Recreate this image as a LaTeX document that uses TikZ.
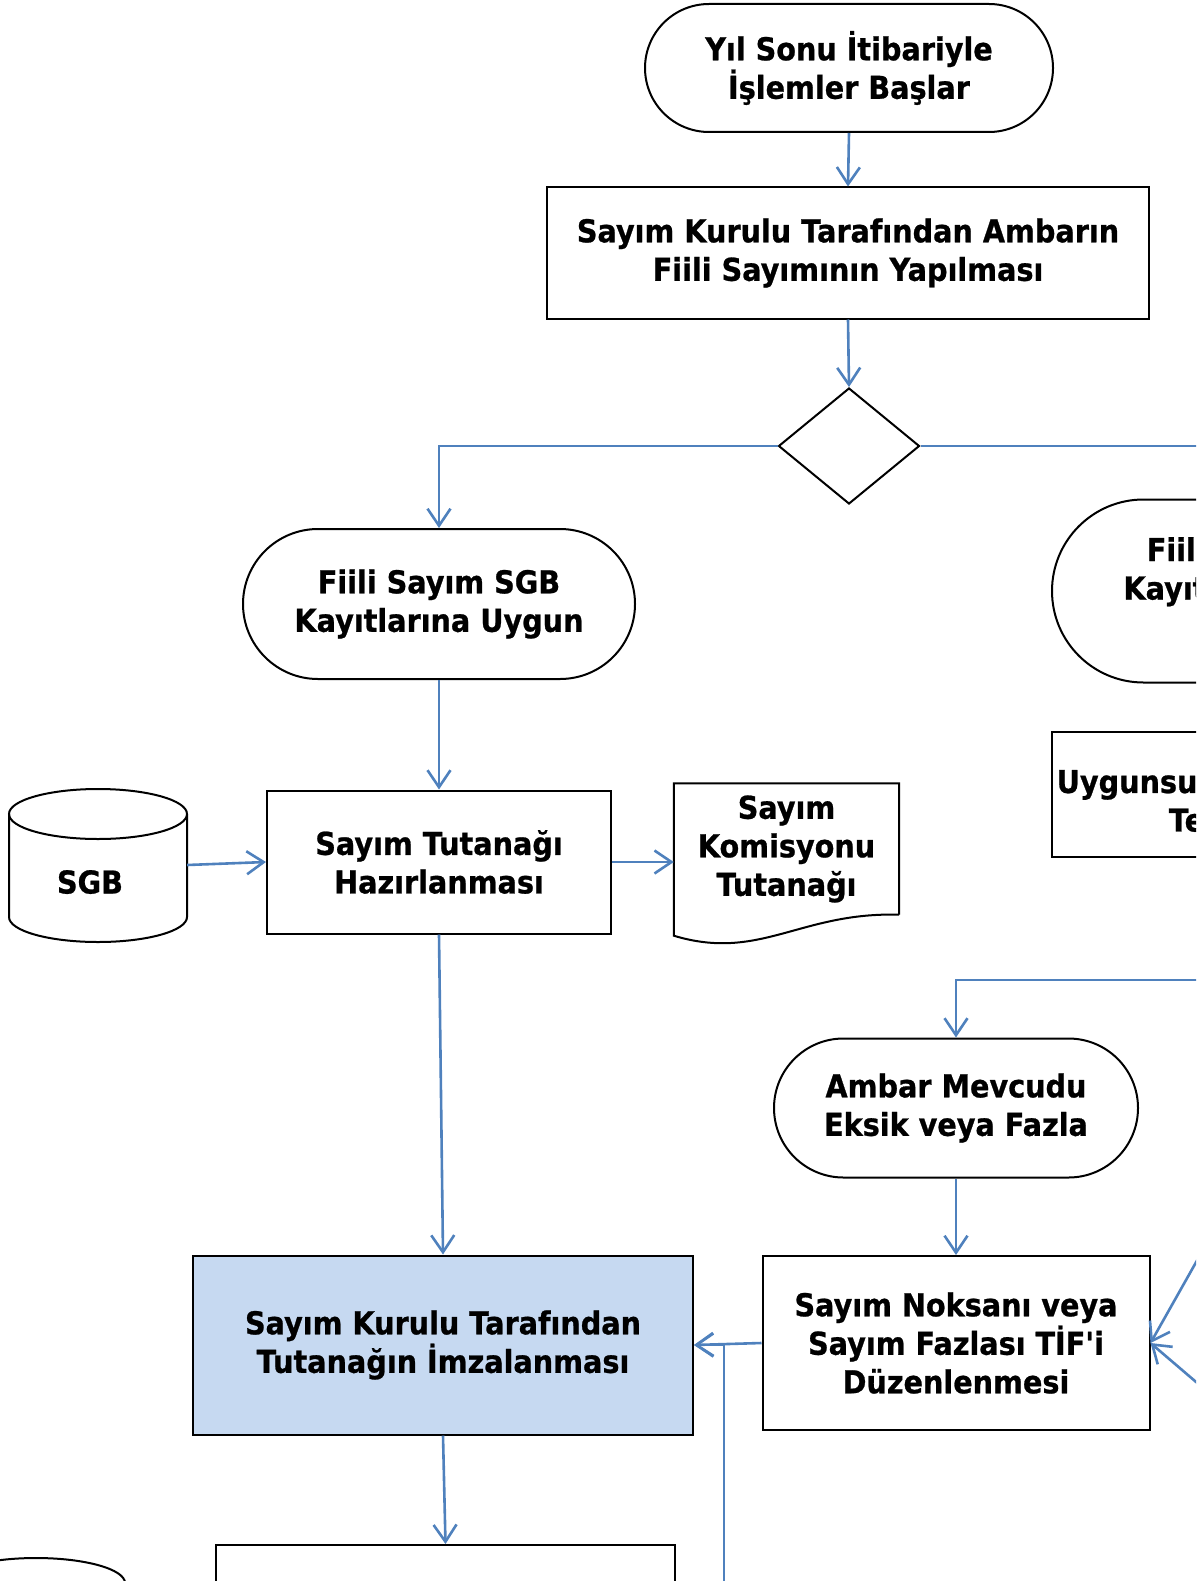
\documentclass[tikz,border=0pt]{standalone}
\usepackage{fontspec}
\newfontfamily\flowfont{DejaVu Sans}[FakeStretch=0.91,BoldFeatures={FakeBold=0.8}]
\usetikzlibrary{calc,arrows.meta,shapes.geometric,shapes.misc}
\definecolor{flowblue}{RGB}{79,129,189}
\definecolor{signfill}{RGB}{198,217,241}
\newcommand\flowtext{\flowfont\bfseries\fontsize{31.5}{38.5}\selectfont}

\begin{document}
\begin{tikzpicture}[x=1pt,y=-1pt,
  box/.style={draw,line width=2pt,rectangle,align=center,font=\flowtext,inner sep=0pt},
  term/.style={draw,line width=2pt,rounded rectangle,align=center,font=\flowtext,inner sep=0pt},
  flow/.style={draw=flowblue,line width=2.6pt,-{Straight Barb[length=17pt,width=23pt]}}]
  \useasboundingbox (0,0) rectangle (1196,1581);
  \clip (0,0) rectangle (1196,1581);

  % top of the chart
  \node[term,minimum width=408,minimum height=128] (start) at (849,68)
    {Yıl Sonu İtibariyle\\İşlemler Başlar};
  \node[box,minimum width=602,minimum height=131] (sayim) at (848,253)
    {Sayım Kurulu Tarafından Ambarın\\Fiili Sayımının Yapılması};
  \node[diamond,draw,line width=2pt,aspect=1.2,minimum width=141,minimum height=116,inner sep=0pt]
    (karar) at (849,446) {};

  % the two outcomes
  \node[term,minimum width=392,minimum height=150] (uygun) at (439,604)
    {Fiili Sayım SGB\\Kayıtlarına Uygun};
  \node[term,minimum width=432,minimum height=183] (uygunsuz) at (1268,591)
    {Fiili Sayım SGB\\Kayıtlarına Uygun\\Değil};
  \node[box,minimum width=476,minimum height=125] (nedeni) at (1290,794.5)
    {\rule{0pt}{42pt}Uygunsuzluğun Nedenlerinin\\Tespit Edilmesi};

  % left branch
  \node[box,minimum width=344,minimum height=143] (tutanak) at (439,862)
    {Sayım Tutanağı\\Hazırlanması};
  \node[minimum width=178,minimum height=153,inner sep=0pt,text height=62pt,text depth=5pt,
    font=\flowtext] (sgb) at (98,865) {SGB\kern16pt};
  \draw[line width=2pt] (9,814) -- (9,917)
    arc[start angle=180,end angle=0,x radius=89,y radius=25] -- (187,814);
  \draw[line width=2pt] (98,814) ellipse[x radius=89,y radius=25];
  \node[minimum width=225,minimum height=131,inner sep=0pt,align=center,font=\flowtext]
    (komisyon) at (786.5,849) {Sayım\\Komisyonu\\Tutanağı};
  \draw[line width=2pt] (komisyon.south east) -- (komisyon.north east)
    -- (komisyon.north west) -- ($(komisyon.south west)+(0,21)$)
    .. controls ($(komisyon.south west)+(86,47)$) and ($(komisyon.south east)+(-99,-3)$)
    .. (komisyon.south east);

  % right branch (eksik / fazla)
  \node[term,minimum width=364,minimum height=139] (ambar) at (956,1108)
    {Ambar Mevcudu\\Eksik veya Fazla};
  \node[box,minimum width=387,minimum height=174] (tif) at (956,1343)
    {Sayım Noksanı veya\\Sayım Fazlası TİF'i\\Düzenlenmesi};

  % bottom
  \node[box,fill=signfill,minimum width=500,minimum height=179] (imza) at (443,1345)
    {Sayım Kurulu Tarafından\\Tutanağın İmzalanması};
  \node[box,minimum width=459,minimum height=150] (sonraki) at (445.5,1620) {};
  \draw[line width=2pt] (36,1583) ellipse[x radius=89,y radius=25];

  % connectors
  \coordinate (geridon) at (724,1600);
  \coordinate (sagust) at (1230,1202);
  \coordinate (sagalt) at (1230,1411);
  \draw[flow] (start.south) -- (sayim.north);
  \draw[flow] (sayim.south) -- (karar.north);
  \draw[flow] (karar.west) -| (uygun.north);
  \draw[flow] (karar.east) -| (uygunsuz.north);
  \draw[flow] (uygun.south) -- (tutanak.north);
  \draw[flow] (sgb.east) -- (tutanak.west);
  \draw[flow] (tutanak.east) -- (tutanak.east -| komisyon.west);
  \draw[flow] (tutanak.south) -- (imza.north);
  \draw[flow] (nedeni.south) -- ++(0,122) -| (ambar.north);
  \draw[flow] (ambar.south) -- (tif.north);
  \draw[flow] (tif.west) -- (imza.east);
  \draw[flow] (geridon) |- (imza.east);
  \draw[flow] (sagust) -- (tif.east);
  \draw[flow] (sagalt) -- (tif.east);
  \draw[flow] (imza.south) -- (sonraki.north);
\end{tikzpicture}
\end{document}
